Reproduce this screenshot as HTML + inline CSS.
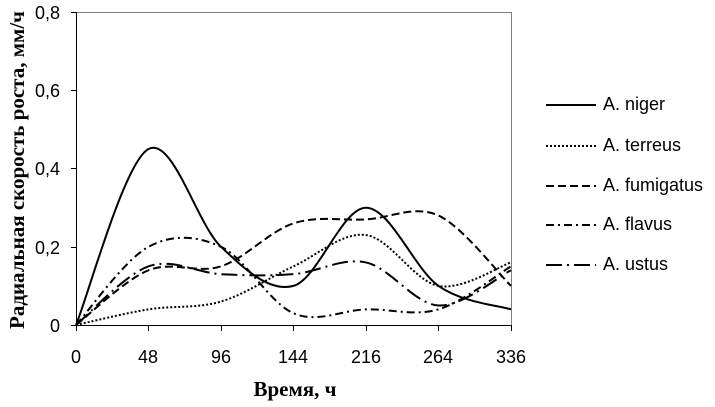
<!DOCTYPE html>
<html><head><meta charset="utf-8"><style>
body{margin:0;background:#fff;width:715px;height:402px;overflow:hidden}
text{font-family:"Liberation Sans",Arial,sans-serif;font-size:18px;fill:#000}
</style></head><body>
<svg id="s" width="715" height="402" xmlns="http://www.w3.org/2000/svg">
<line x1="76" y1="12.5" x2="512" y2="12.5" stroke="#808080"/>
<line x1="511.5" y1="12" x2="511.5" y2="325" stroke="#808080"/>
<line x1="76.5" y1="12" x2="76.5" y2="325" stroke="#000"/>
<line x1="76" y1="325.5" x2="512" y2="325.5" stroke="#000"/>
<g stroke="#000">
<line x1="71" y1="12.5" x2="76" y2="12.5"/><line x1="71" y1="90.5" x2="76" y2="90.5"/><line x1="71" y1="168.5" x2="76" y2="168.5"/><line x1="71" y1="247.5" x2="76" y2="247.5"/><line x1="71" y1="325.5" x2="76" y2="325.5"/>
<line x1="76.5" y1="325" x2="76.5" y2="331"/><line x1="148.5" y1="325" x2="148.5" y2="331"/><line x1="221.5" y1="325" x2="221.5" y2="331"/><line x1="293.5" y1="325" x2="293.5" y2="331"/><line x1="366.5" y1="325" x2="366.5" y2="331"/><line x1="438.5" y1="325" x2="438.5" y2="331"/><line x1="511.5" y1="325" x2="511.5" y2="331"/>
</g>
<g text-anchor="end">
<text x="60" y="19">0,8</text><text x="60" y="97">0,6</text><text x="60" y="175">0,4</text><text x="60" y="254">0,2</text><text x="60" y="332">0</text>
</g>
<g text-anchor="middle">
<text x="76" y="363">0</text><text x="148" y="363">48</text><text x="221" y="363">96</text><text x="293" y="363">144</text><text x="366" y="363">216</text><text x="438" y="363">264</text><text x="511" y="363">336</text>
</g>
<text x="295" y="396" text-anchor="middle" style="font-family:'Liberation Serif',serif;font-weight:bold;font-size:21px">Время, ч</text>
<text transform="translate(24,170) rotate(-90)" text-anchor="middle" style="font-family:'Liberation Serif',serif;font-weight:bold;font-size:21px">Радиальная скорость роста, мм/ч</text>
<g id="curves" fill="none" stroke="#000" stroke-width="2"></g>
<g fill="none" stroke="#000" stroke-width="2">
<line x1="546" y1="105" x2="596" y2="105"/>
<line x1="546" y1="146" x2="596" y2="146" stroke-dasharray="2,2"/>
<line x1="546" y1="186" x2="596" y2="186" stroke-dasharray="8,4"/>
<line x1="546" y1="225" x2="596" y2="225" stroke-dasharray="8,4,2,4"/>
<line x1="546" y1="265" x2="596" y2="265" stroke-dasharray="16,5,2,5"/>
</g>
<g style="font-size:15px">
<text x="603" y="110">A. niger</text><text x="603" y="151">A. terreus</text><text x="603" y="191">A. fumigatus</text><text x="603" y="230">A. flavus</text><text x="603" y="270">A. ustus</text>
</g>
</svg>
<script>
var series=[
[[0,0.45,0.2,0.1,0.3,0.1,0.04],""],
[[0,0.04,0.06,0.15,0.23,0.1,0.16],"2,2"],
[[0,0.14,0.15,0.26,0.27,0.28,0.1],"8,4"],
[[0,0.2,0.2,0.03,0.04,0.04,0.15],"8,4,2,4"],
[[0,0.15,0.13,0.13,0.16,0.05,0.14],"16,5,2,5"]];
var g=document.getElementById("curves");
series.forEach(function(s){
 var p=s[0].map(function(v,i){return [76+72.5*i,325-v*391];});
 var d="M"+p[0][0]+","+p[0][1];
 for(var i=0;i<p.length-1;i++){
  var p0=p[i-1]||p[i],p1=p[i],p2=p[i+1],p3=p[i+2]||p2;
  var c1=[p1[0]+(p2[0]-p0[0])/6,p1[1]+(p2[1]-p0[1])/6];
  var c2=[p2[0]-(p3[0]-p1[0])/6,p2[1]-(p3[1]-p1[1])/6];
  d+=" C"+c1+" "+c2+" "+p2;
 }
 var e=document.createElementNS("http://www.w3.org/2000/svg","path");
 e.setAttribute("d",d);
 if(s[1])e.setAttribute("stroke-dasharray",s[1]);
 g.appendChild(e);
});
</script>
</body></html>
